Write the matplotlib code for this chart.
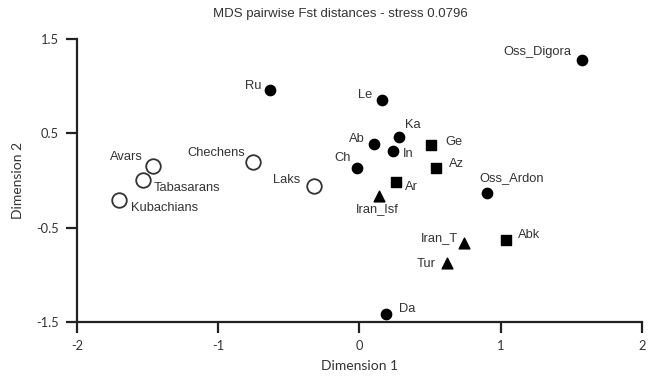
import matplotlib
matplotlib.use("Agg")
import matplotlib.pyplot as plt

# ------------------------------------------------------------
# Data (MDS coordinates)
# ------------------------------------------------------------
pops = ["Oss_Digora", "Ru", "Le", "Ka", "Ab", "In", "Ch", "Oss_Ardon", "Da",
        "Ge", "Az", "Ar", "Abk",
        "Iran_Isf", "Iran_T", "Tur",
        "Avars", "Tabasarans", "Kubachians", "Chechens", "Laks"]
dim1 = [1.575, -0.63, 0.16, 0.28, 0.10, 0.24, -0.02, 0.90, 0.19,
        0.51, 0.54, 0.26, 1.04,
        0.14, 0.74, 0.62,
        -1.46, -1.53, -1.70, -0.75, -0.32]
dim2 = [1.28, 0.96, 0.85, 0.46, 0.39, 0.31, 0.13, -0.13, -1.42,
        0.38, 0.13, -0.02, -0.63,
        -0.17, -0.66, -0.88,
        0.15, 0.00, -0.21, 0.19, -0.06]
group = ["circle"] * 9 + ["square"] * 4 + ["triangle"] * 3 + ["open"] * 5

x_ticks = [-2, -1, 0, 1, 2]
y_ticks = [-1.5, -0.5, 0.5, 1.5]

# marker style per group
styles = {
    "circle":   dict(marker="o", s=55, facecolors="black", edgecolors="black"),
    "square":   dict(marker="s", s=60, facecolors="black", edgecolors="black"),
    "triangle": dict(marker="^", s=60, facecolors="black", edgecolors="black"),
    "open":     dict(marker="o", s=110, facecolors="white", edgecolors="#333333", linewidths=1.3),
}

# label placement (pixel offsets, alignment)
label_pos = {
    "Oss_Digora": (-10, 8, "right"), "Ru": (-9, 4, "right"), "Le": (-10, 5, "right"),
    "Ka": (6, 12, "left"), "Ab": (-9, 5, "right"), "In": (10, -3, "left"),
    "Ch": (-6, 10, "right"), "Oss_Ardon": (-7, 15, "left"), "Da": (13, 5, "left"),
    "Ge": (14, 3, "left"), "Az": (13, 4, "left"), "Ar": (9, -5, "left"),
    "Abk": (12, 5, "left"), "Iran_Isf": (-2, -13, "center"), "Iran_T": (-6, 5, "right"),
    "Tur": (-11, -1, "right"), "Avars": (-10, 9, "right"), "Tabasarans": (10, -8, "left"),
    "Kubachians": (12, -8, "left"), "Chechens": (-8, 9, "right"), "Laks": (-14, 6, "right"),
}

plt.rcParams["font.family"] = ["Liberation Sans", "DejaVu Sans"]
txt = "#333333"
axis_font = ["Lato", "DejaVu Sans"]

fig = plt.figure(figsize=(6.57, 3.77), dpi=100)
ax = fig.add_axes([0.117, 0.146, 0.86, 0.751])

for g in ["circle", "square", "triangle", "open"]:
    xs = [x for x, gg in zip(dim1, group) if gg == g]
    ys = [y for y, gg in zip(dim2, group) if gg == g]
    ax.scatter(xs, ys, zorder=3, **styles[g])

for name, x, y in zip(pops, dim1, dim2):
    dx, dy, ha = label_pos[name]
    ax.annotate(name, (x, y), xytext=(dx, dy), textcoords="offset pixels",
                ha=ha, va="center", fontsize=9.3, color=txt)

ax.set_xlim(-2, 2)
ax.set_ylim(-1.5, 1.5)
ax.set_xticks(x_ticks)
ax.set_yticks(y_ticks)
ax.set_xticklabels([str(t) for t in x_ticks], family=axis_font)
ax.set_yticklabels([f"{t:g}" for t in y_ticks], family=axis_font)
ax.spines["top"].set_visible(False)
ax.spines["right"].set_visible(False)
for sp in ["left", "bottom"]:
    ax.spines[sp].set_linewidth(1.6)
    ax.spines[sp].set_color("#222222")
ax.tick_params(direction="out", length=8, width=1.6, color="#222222",
               labelsize=9.3, labelcolor=txt, pad=5)

ax.set_xlabel("Dimension 1", fontsize=10, color=txt, labelpad=6, family=axis_font)
ax.set_ylabel("Dimension 2", fontsize=10, color=txt, labelpad=9, family=axis_font)
fig.text(0.518, 0.962, "MDS pairwise Fst distances - stress 0.0796",
         ha="center", va="center", fontsize=9.5, color=txt)

fig.savefig("out.png", dpi=100)
